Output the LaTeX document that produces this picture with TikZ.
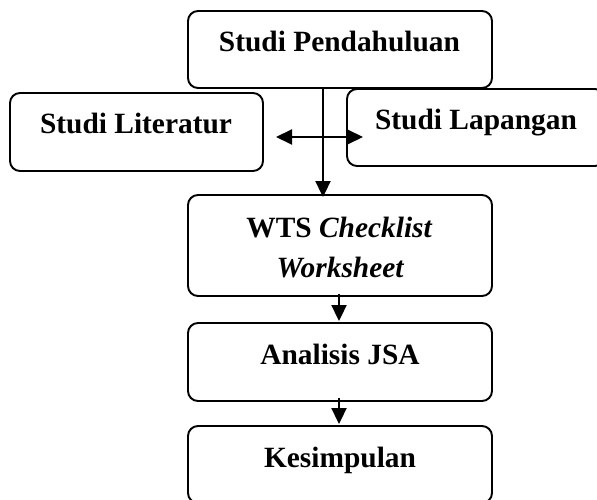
\documentclass[tikz,border=0pt]{standalone}
\usepackage{fontspec}
\setmainfont{Liberation Serif}
\usetikzlibrary{arrows.meta}
\begin{document}
\begin{tikzpicture}[x=1pt,y=-1pt,
  box/.style={draw,line width=1.9pt,rounded corners=10pt,inner sep=0pt},
  lbl/.style={anchor=base,inner sep=0pt,font=\fontsize{29.4}{34}\selectfont\bfseries},
  tip/.style={Triangle[length=16pt,width=15pt]},
  arr/.style={line width=2pt,-{Triangle[length=16pt,width=15pt]}},
  darr/.style={line width=2pt,{Triangle[length=16pt,width=15pt]}-{Triangle[length=16pt,width=15pt]}}]
\clip (0,0) rectangle (597,500);
\fill[white] (0,0) rectangle (597,500);
% boxes
\node[box,minimum width=304pt,minimum height=77pt] (sp) at (340,49.5) {};
\node[box,minimum width=253pt,minimum height=78pt] (sl) at (136.5,132) {};
\node[box,minimum width=258pt,minimum height=77pt] (sg) at (476,127.5) {};
\node[box,minimum width=304pt,minimum height=101pt] (wts) at (340,245.5) {};
\node[box,minimum width=304pt,minimum height=78pt] (jsa) at (340,362) {};
\node[box,minimum width=304pt,minimum height=77pt] (kes) at (340,464.5) {};
% texts
\node[lbl] (spt) at (339.5,52) {Studi Pendahuluan};
\node[lbl] (slt) at (136,134) {Studi Literatur};
\node[lbl] (sgt) at (476,130) {Studi Lapangan};
\node[lbl] (wt1) at (339.5,237) {WTS \textit{Checklist}};
\node[lbl] (wt2) at (340.5,277) {\textit{Worksheet}};
\node[lbl] (jsat) at (340,364) {Analisis JSA};
\node[lbl] (kest) at (340,467) {Kesimpulan};
% connectors
\coordinate (vx) at (323,0);
\coordinate (ax) at (339,0);
\coordinate (hl) at (276,137);
\coordinate (hr) at (363,137);
\draw[arr] (sp.south -| vx) -- ([yshift=-3pt]wts.north -| vx);
\draw[darr] (hl) -- (hr);
\draw[arr] ([yshift=3pt]wts.south -| ax) -- ([yshift=1pt]jsa.north -| ax);
\draw[arr] ([yshift=4pt]jsa.south -| ax) -- ([yshift=1pt]kes.north -| ax);
\end{tikzpicture}
\end{document}
